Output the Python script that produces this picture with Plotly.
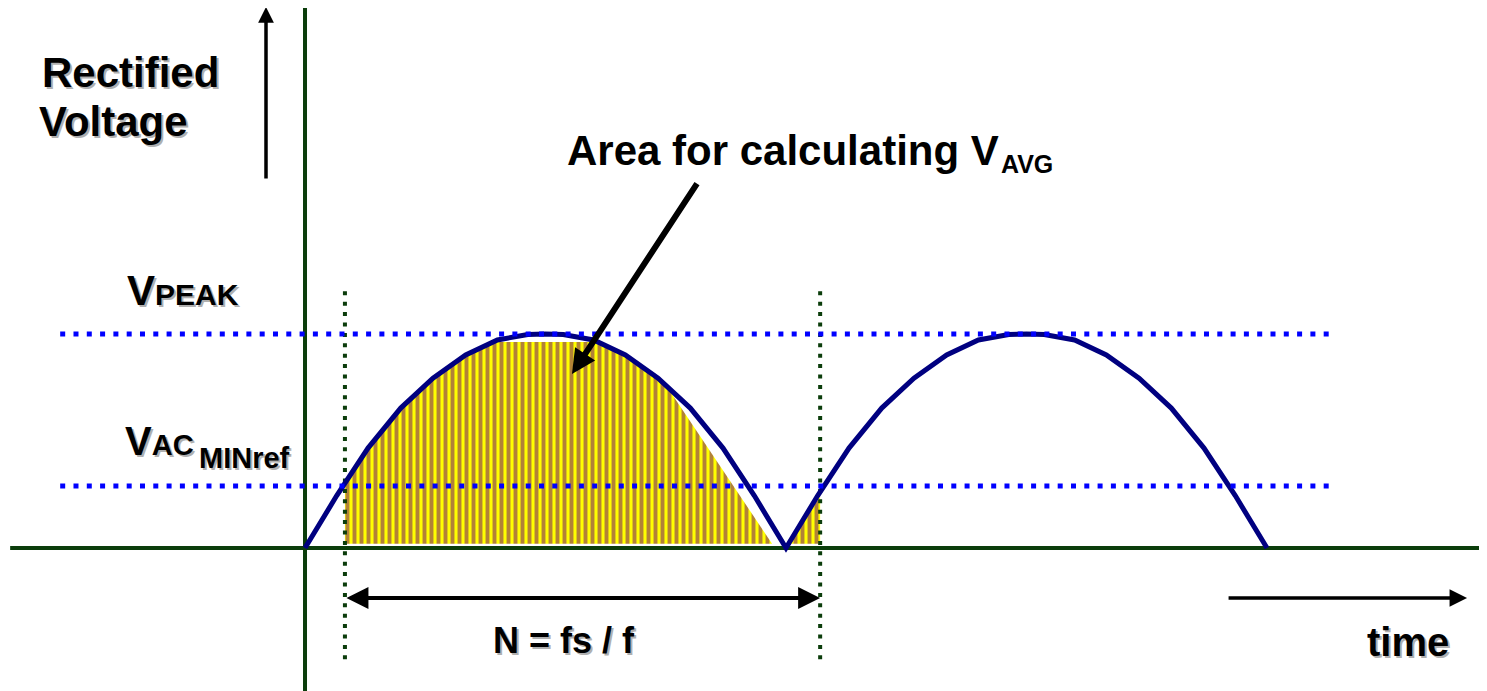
import plotly.graph_objects as go

# ---------------- data (time in ms for a 50 Hz line, voltage normalised to V_PEAK) ----------------
wave_t = [0, 0.66, 1.31, 1.99, 2.66, 3.34, 4.0, 4.63, 5.0, 5.37, 6.0, 6.66, 7.34, 8.01, 8.69, 9.34, 10.0,
          10.66, 11.31, 11.99, 12.66, 13.34, 14.0, 14.63, 15.0, 15.37, 16.0, 16.66, 17.34, 18.01, 18.69, 19.34, 20.0]
wave_v = [0, 0.245, 0.467, 0.654, 0.794, 0.902, 0.972, 0.998, 1.0, 0.998, 0.972, 0.902, 0.794, 0.654, 0.467, 0.245, 0,
          0.245, 0.467, 0.654, 0.794, 0.902, 0.972, 0.998, 1.0, 0.998, 0.972, 0.902, 0.794, 0.654, 0.467, 0.245, 0]

level_names = ["VPEAK", "VACMINref"]
level_values = [1.0, 0.29]
level_span_t = [-5.09, 21.41]

window_t = [0.83, 10.71]          # sampling window (N = fs / f)
window_span_v = [-0.52, 1.20]

# shaded area used for V_AVG
area1_t = [0.83, 0.83, 1.31, 1.99, 2.66, 3.34, 3.92, 6.08, 6.66, 7.34, 7.53, 9.71, 0.83]
area1_v = [0.02, 0.29, 0.467, 0.654, 0.794, 0.902, 0.963, 0.963, 0.902, 0.794, 0.752, 0.02, 0.02]
area2_t = [10.02, 10.71, 10.71, 10.02]
area2_v = [0.02, 0.24, 0.02, 0.02]

# page body has an 8 px margin: the figure covers window pixels 8..1487 x 8..691
OFF = 8
W, H = 1487 - OFF, 691 - OFF
X_RANGE = [-6.175, 24.574]
Y_RANGE = [-0.6682, 2.5234]

FONT = "Liberation Sans, Arial, Helvetica, sans-serif"
GREEN = "#0b3d0b"
NAVY = "#000080"
BLUE = "#0000ff"

fig = go.Figure()

# coordinate axes of the diagram
fig.add_trace(go.Scatter(x=[0, 0], y=[Y_RANGE[0], 2.537], mode="lines",
                         line=dict(color=GREEN, width=4), hoverinfo="skip"))
fig.add_trace(go.Scatter(x=[-6.13, X_RANGE[1]], y=[0, 0], mode="lines",
                         line=dict(color=GREEN, width=4), hoverinfo="skip"))

# hatched areas (yellow background with purple vertical stripes)
for at, av in [(area1_t, area1_v), (area2_t, area2_v)]:
    fig.add_trace(go.Scatter(
        x=at, y=av, mode="lines", fill="toself", line=dict(width=0, color="rgba(0,0,0,0)"),
        fillcolor="#ffff00",
        fillpattern=dict(shape="|", bgcolor="#ffff00", fgcolor="#66066e", size=7, solidity=0.56),
        hoverinfo="skip"))

# window lines
for wt in window_t:
    fig.add_trace(go.Scatter(x=[wt, wt], y=window_span_v, mode="lines",
                             line=dict(color=GREEN, width=4, dash="4px,6.4px"), hoverinfo="skip"))

# rectified wave
fig.add_trace(go.Scatter(x=wave_t, y=wave_v, mode="lines",
                         line=dict(color=NAVY, width=5), hoverinfo="skip"))

# reference levels
for lv in level_values:
    fig.add_trace(go.Scatter(x=level_span_t, y=[lv, lv], mode="lines",
                             line=dict(color=BLUE, width=5, dash="5px,8.3px"), hoverinfo="skip"))


def px(xp, yp):
    return (xp - OFF) / W, 1 - (yp - OFF) / H


def label(text, xp, yp, size, xanchor="left", shadow=True):
    if shadow:
        sx, sy = px(xp + 2, yp + 2)
        fig.add_annotation(text=text, x=sx, y=sy, xref="paper", yref="paper", showarrow=False,
                           xanchor=xanchor, yanchor="middle",
                           font=dict(family=FONT, size=size, color="#b0b0b0", weight="bold"))
    x, y = px(xp, yp)
    fig.add_annotation(text=text, x=x, y=y, xref="paper", yref="paper", showarrow=False,
                       xanchor=xanchor, yanchor="middle",
                       font=dict(family=FONT, size=size, color="black", weight="bold"))


label("Rectified", 40, 72.8, 42)
label("Voltage", 37, 121.8, 42)
label("V<span style='font-size:30px'>PEAK</span>", 125, 290.4, 42)
label("V<span style='font-size:29px'>AC</span>", 123, 441, 40)
label("MINref", 197, 458, 29)
label("Area for calculating V", 565, 150.4, 42, shadow=False)
label("AVG", 999, 164.3, 25, shadow=False)
label("N = fs / f", 564, 640.5, 36, xanchor="center")
label("time", 1365, 642, 40)


def arrow(x_tip, y_tip, x_tail, y_tail, width, size, both=False):
    fig.add_annotation(x=x_tip, y=y_tip, ax=x_tail, ay=y_tail, xref="x", yref="y",
                       axref="x", ayref="y", text="", showarrow=True,
                       arrowhead=2, startarrowhead=2, arrowside="end+start" if both else "end",
                       arrowsize=size, startarrowsize=size, arrowwidth=width, arrowcolor="black",
                       standoff=0, startstandoff=0)


arrow(-0.811, 2.528, -0.811, 1.72, 3.5, 0.9)                    # voltage axis arrow
arrow(window_t[1], -0.234, window_t[0], -0.234, 4, 1.1, both=True)  # N = fs / f span
arrow(24.16, -0.234, 19.17, -0.234, 3.5, 1.0)                    # time arrow
arrow(5.55, 0.813, 8.17, 1.71, 6, 0.8)                           # pointer to area

fig.update_layout(
    width=W, height=H, autosize=False,
    margin=dict(l=0, r=0, t=0, b=0, pad=0),
    paper_bgcolor="white", plot_bgcolor="white",
    showlegend=False,
    xaxis=dict(range=X_RANGE, visible=False, fixedrange=True),
    yaxis=dict(range=Y_RANGE, visible=False, fixedrange=True),
)

fig.write_html("out.html")
